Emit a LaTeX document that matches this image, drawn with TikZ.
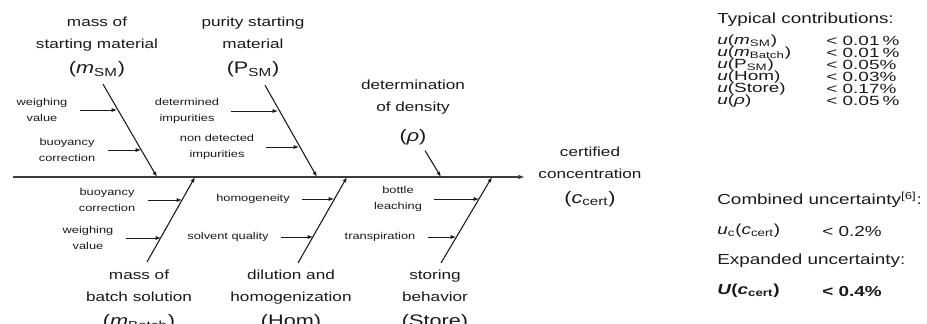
\documentclass[tikz,border=0pt]{standalone}
\usepackage{fontspec}
\setmainfont{Liberation Sans}
\usepackage{xcolor}
\usetikzlibrary{arrows.meta,calc}
\definecolor{ink}{HTML}{1A1A1A}
\newcommand{\bigsym}[1]{{\fontsize{12.5}{16}\selectfont #1}}
\tikzset{
  lbl/.style   ={align=center, inner sep=0pt, xscale=1.3, text=ink, font=\fontsize{9.9}{16.5}\selectfont},
  sublbl/.style={align=center, inner sep=0pt, xscale=1.3, text=ink, font=\fontsize{7.4}{12}\selectfont},
  tbl/.style   ={anchor=west, inner sep=0pt, xscale=1.3, text=ink, font=\fontsize{10.9}{12}\selectfont},
  row/.style   ={anchor=west, inner sep=0pt, xscale=1.42, text=ink, font=\fontsize{10}{11}\selectfont},
  spine/.style ={draw=ink!85, line width=1pt, -{Latex[length=5pt,width=3.5pt]}},
  bone/.style  ={draw=ink, line width=0.8pt, -{Latex[length=4pt,width=3pt]}},
  cause/.style ={draw=ink, line width=0.6pt, -{Latex[length=4pt,width=3pt]}, shorten <=9pt},
}
\begin{document}
\begin{tikzpicture}[x=0.75pt,y=-0.75pt]
\useasboundingbox (0,0) rectangle (927,324);
% spine
\coordinate (tail) at (13,177);
\coordinate (head) at (525,177);
\coordinate (j1) at (157,177);
\coordinate (j2) at (317,177);
\coordinate (j3) at (441,177);
\coordinate (j4) at (195,177);
\coordinate (j5) at (347,177);
\coordinate (j6) at (492,177);
\draw[spine] (tail) -- (head);
\node[lbl] (cert) at (590,177) {certified\\concentration\\[2pt]\bigsym{(\textit{c}\textsubscript{cert})}};

% main causes
\node[lbl, anchor=north] (msm) at (97,17) {mass of\\starting material\\[2pt]\bigsym{(\textit{m}\textsubscript{SM})}};
\node[lbl, anchor=north] (psm) at (253,17) {purity starting\\material\\[2pt]\bigsym{(P\textsubscript{SM})}};
\node[lbl, anchor=north] (rho) at (413,80) {determination\\of density\\[6pt]\bigsym{(\textit{ρ})}};
\node[lbl, anchor=north] (mb) at (139,270) {mass of\\batch solution\\[2pt]\bigsym{(\textit{m}\textsubscript{Batch})}};
\node[lbl, anchor=north] (hom) at (291,270) {dilution and\\homogenization\\[2pt]\bigsym{(Hom)}};
\node[lbl, anchor=north] (store) at (435,270) {storing\\behavior\\[2pt]\bigsym{(Store)}};
\draw[bone] ($(msm.south)+(6,7)$) -- (j1);
\draw[bone] ($(psm.south)+(12,8)$) -- (j2);
\draw[bone] ($(rho.south)+(12,5)$) -- (j3);
\draw[bone] ($(mb.north)+(8,-8)$) -- (j4);
\draw[bone] ($(hom.north)+(7,-7)$) -- (j5);
\draw[bone] ($(store.north)+(6,-7)$) -- (j6);

% sub causes
\node[sublbl] (wv1) at (42,110) {weighing\\value};
\node[sublbl] (bc1) at (67,150) {buoyancy\\correction};
\node[sublbl] (di) at (187,111) {determined\\impurities};
\node[sublbl] (nd) at (217,147) {non detected\\impurities};
\node[sublbl] (bc2) at (107,200) {buoyancy\\correction};
\node[sublbl] (wv2) at (88,238) {weighing\\value};
\node[sublbl] (hg) at (253,199) {homogeneity};
\node[sublbl] (sq) at (228,237) {solvent quality};
\node[sublbl] (bl) at (398,199) {bottle\\leaching};
\node[sublbl] (tr) at (380,237) {transpiration};
\coordinate (e11) at (117,110);
\coordinate (e12) at (141,150);
\coordinate (e21) at (278,111);
\coordinate (e22) at (299,147);
\coordinate (e41) at (182,200);
\coordinate (e42) at (161,238);
\coordinate (e51) at (334,199);
\coordinate (e52) at (313,237);
\coordinate (e61) at (479,199);
\coordinate (e62) at (456,237);
\draw[cause] (wv1) -- (e11);
\draw[cause] (bc1) -- (e12);
\draw[cause] (di) -- (e21);
\draw[cause] (nd) -- (e22);
\draw[cause] (bc2) -- (e41);
\draw[cause] (wv2) -- (e42);
\draw[cause] (hg) -- (e51);
\draw[cause] (sq) -- (e52);
\draw[cause] (bl) -- (e61);
\draw[cause] (tr) -- (e62);

% budget
\node[tbl] (typ) at (717,20) {Typical contributions:};
\node[row] (l1) at (717,41) {\textit{u}(\textit{m}\textsubscript{SM})};
\node[row] (l2) at (717,53) {\textit{u}(\textit{m}\textsubscript{Batch})};
\node[row] (l3) at (717,65) {\textit{u}(P\textsubscript{SM})};
\node[row] (l4) at (717,77) {\textit{u}(Hom)};
\node[row] (l5) at (717,89) {\textit{u}(Store)};
\node[row] (l6) at (717,101) {\textit{u}(\textit{ρ})};
\node[row] (v1) at (826,41) {< 0.01\,\%};
\node[row] (v2) at (826,53) {< 0.01\,\%};
\node[row] (v3) at (826,65) {< 0.05\%};
\node[row] (v4) at (826,77) {< 0.03\%};
\node[row] (v5) at (826,89) {< 0.17\%};
\node[row] (v6) at (826,101) {< 0.05\,\%};
\node[tbl] (comb) at (717,200) {Combined uncertainty\textsuperscript{[6]}:};
\node[tbl] (uc) at (717,231) {\textit{u}\textsubscript{c}(\textit{c}\textsubscript{cert})};
\node[tbl] (ucv) at (822,231) {< 0.2\%};
\node[tbl] (expd) at (717,261) {Expanded uncertainty:};
\node[tbl] (ue) at (717,291) {\textbf{\textit{U}(\textit{c}\textsubscript{cert})}};
\node[tbl] (uev) at (822,291) {\textbf{< 0.4\%}};
\end{tikzpicture}
\end{document}
